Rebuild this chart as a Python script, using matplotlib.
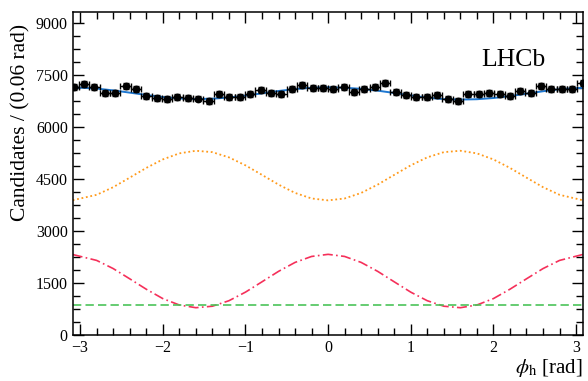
import numpy as np
import matplotlib
matplotlib.use("Agg")
import matplotlib.pyplot as plt
from matplotlib.ticker import MultipleLocator

plt.rcParams["font.family"] = ["Liberation Serif", "DejaVu Serif"]
plt.rcParams["mathtext.fontset"] = "stix"

# data points (50 bins over [-pi, pi])
counts = [7156, 7225, 7138, 6965, 6974, 7184, 7081, 6897, 6839, 6810,
          6850, 6830, 6815, 6752, 6937, 6850, 6850, 6937, 7060, 6983,
          6945, 7089, 7205, 7110, 7120, 7081, 7156, 7012, 7089, 7138,
          7253, 7012, 6916, 6868, 6850, 6916, 6793, 6744, 6937, 6945,
          6965, 6937, 6897, 7041, 6965, 7176, 7089, 7081, 7081, 7253]

# fit components, read at these phi values
curve_phi = [-3.09, -2.8, -2.6, -2.4, -2.2, -2.0, -1.8, -1.6, -1.4, -1.2,
             -1.0, -0.8, -0.6, -0.4, -0.2, 0.0, 0.2, 0.4, 0.6, 0.8,
             1.0, 1.2, 1.4, 1.6, 1.8, 2.0, 2.2, 2.4, 2.6, 2.8, 3.08]
total_fit = [7139, 7102, 7050, 6985, 6918, 6859, 6818, 6800, 6810, 6845,
             6899, 6965, 7032, 7088, 7127, 7140, 7125, 7095, 7042, 6975,
             6905, 6840, 6798, 6785, 6795, 6830, 6885, 6955, 7025, 7085, 7125]
comp_orange = [3885, 4040, 4260, 4535, 4815, 5060, 5235, 5310, 5270, 5120,
               4890, 4615, 4335, 4095, 3935, 3880, 3935, 4095, 4335, 4615,
               4890, 5120, 5270, 5310, 5235, 5060, 4815, 4535, 4260, 4040, 3885]
comp_red = [2320, 2150, 1915, 1620, 1320, 1050, 865, 787, 830, 988,
            1235, 1533, 1834, 2092, 2264, 2325, 2264, 2092, 1834, 1533,
            1235, 988, 830, 787, 865, 1050, 1320, 1620, 1915, 2150, 2320]
flat_phi = [-3.09, 3.08]
comp_green = [855, 855]

nbins = len(counts)
edges = np.linspace(-np.pi, np.pi, nbins + 1)
centers = 0.5 * (edges[:-1] + edges[1:])
half_w = 0.5 * (edges[1] - edges[0])
y = np.array(counts, dtype=float)
yerr = np.sqrt(y)  # Poisson errors

fig = plt.figure(figsize=(5.88, 3.81), dpi=100)
ax = fig.add_axes([0.1236, 0.1207, 0.8674, 0.8470])

ax.plot(curve_phi, comp_orange, color="#ff9a1a", linestyle=(0, (1, 1.5)), linewidth=1.3)
ax.plot(curve_phi, comp_red, color="#f5305a", linestyle=(0, (6, 2, 1, 2)), linewidth=1.2)
ax.plot(flat_phi, comp_green, color="#4cc35a", linestyle=(0, (5, 2.5)), linewidth=1.2)
ax.plot(curve_phi, total_fit, color="#1e78d2", linestyle="-", linewidth=1.4)

ax.errorbar(centers, y, xerr=half_w, yerr=yerr, fmt="o", color="black",
            markersize=4.6, elinewidth=1.0, capsize=2.2, capthick=1.0, zorder=5)

ax.set_xlim(-3.09, 3.08)
ax.set_ylim(0, 9300)
ax.set_yticks([0, 1500, 3000, 4500, 6000, 7500, 9000])
ax.xaxis.set_major_locator(MultipleLocator(1))
ax.xaxis.set_minor_locator(MultipleLocator(0.2))
ax.yaxis.set_minor_locator(MultipleLocator(375))
ax.tick_params(which="both", direction="in", top=True, right=True, labelsize=11.5, width=1.0)
ax.tick_params(which="major", length=8)
ax.tick_params(which="minor", length=5)
for s in ax.spines.values():
    s.set_linewidth(1.1)

ax.set_ylabel("Candidates / (0.06 rad)", fontsize=15.5, loc="top")
ax.yaxis.set_label_coords(-0.082, 0.965)
ax.set_xlabel(r"$\phi_{\rm h}$ [rad]", fontsize=15, loc="right")
ax.xaxis.set_label_coords(1.0, -0.068)
ax.text(0.802, 0.834, "LHCb", transform=ax.transAxes, fontsize=18.5,
        ha="left", va="baseline")

fig.savefig("out.png", dpi=100)
